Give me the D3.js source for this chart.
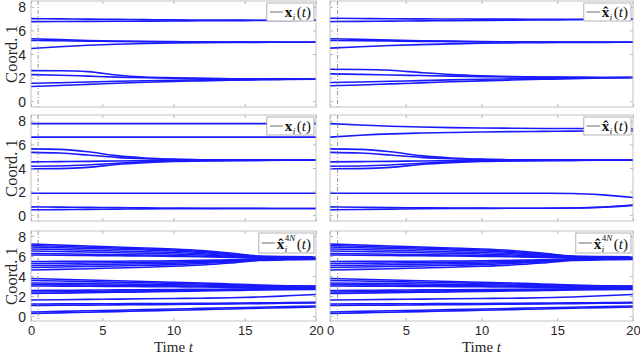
<!DOCTYPE html>
<html>
<head>
<meta charset="utf-8">
<script src="https://cdn.jsdelivr.net/npm/d3@7"></script>
<style>
body { margin: 0; background: #fff; }
svg { display: block; }
</style>
</head>
<body>
<div id="chart"></div>
<script>
// sample times shared by every trajectory
var tt = [0, 2, 4, 6, 8, 10, 12, 14, 16, 18, 20];
var xTicks = [0, 5, 10, 15, 20];
var yTicks = [0, 2, 4, 6, 8];
var tMark = 0.5;

// row 1, left: x_i(t)
var xTrue1 = [
  [7.00, 6.98, 6.96, 6.94, 6.92, 6.90, 6.89, 6.88, 6.87, 6.87, 6.86],
  [6.75, 6.76, 6.77, 6.78, 6.79, 6.80, 6.82, 6.83, 6.84, 6.85, 6.86],
  [5.30, 5.22, 5.15, 5.10, 5.07, 5.05, 5.03, 5.02, 5.01, 5.00, 5.00],
  [5.15, 5.12, 5.09, 5.06, 5.04, 5.03, 5.02, 5.01, 5.00, 5.00, 5.00],
  [4.47, 4.62, 4.74, 4.83, 4.89, 4.93, 4.96, 4.98, 4.99, 5.00, 5.00],
  [2.59, 2.58, 2.50, 2.22, 2.05, 1.98, 1.93, 1.90, 1.88, 1.87, 1.86],
  [2.25, 2.20, 2.12, 2.04, 1.98, 1.94, 1.91, 1.89, 1.88, 1.87, 1.86],
  [1.52, 1.56, 1.62, 1.68, 1.73, 1.77, 1.80, 1.82, 1.84, 1.85, 1.86],
  [1.24, 1.32, 1.42, 1.52, 1.60, 1.67, 1.72, 1.77, 1.81, 1.84, 1.86]
];

// row 1, right: xhat_i(t)
var xHat1 = [
  [7.03, 7.01, 6.99, 6.98, 6.97, 6.96, 6.96, 6.95, 6.95, 6.95, 6.95],
  [6.75, 6.77, 6.79, 6.81, 6.83, 6.85, 6.87, 6.89, 6.91, 6.93, 6.95],
  [5.30, 5.24, 5.18, 5.13, 5.09, 5.06, 5.04, 5.02, 5.01, 5.00, 5.00],
  [5.15, 5.13, 5.10, 5.07, 5.05, 5.03, 5.02, 5.01, 5.00, 5.00, 5.00],
  [4.50, 4.62, 4.72, 4.80, 4.86, 4.91, 4.94, 4.97, 4.98, 4.99, 5.00],
  [2.70, 2.69, 2.62, 2.42, 2.25, 2.15, 2.09, 2.05, 2.03, 2.01, 2.00],
  [2.31, 2.27, 2.22, 2.17, 2.12, 2.08, 2.05, 2.03, 2.02, 2.01, 2.00],
  [1.58, 1.62, 1.68, 1.74, 1.80, 1.85, 1.89, 1.93, 1.96, 1.98, 2.00],
  [1.30, 1.37, 1.46, 1.55, 1.64, 1.72, 1.79, 1.85, 1.91, 1.96, 2.00]
];

// row 2, left: x_i(t)
var xTrue2 = [
  [7.77, 7.77, 7.77, 7.77, 7.77, 7.77, 7.77, 7.77, 7.77, 7.77, 7.77],
  [6.62, 6.62, 6.62, 6.62, 6.62, 6.62, 6.62, 6.62, 6.62, 6.62, 6.62],
  [5.62, 5.58, 5.38, 5.05, 4.85, 4.75, 4.70, 4.68, 4.67, 4.66, 4.66],
  [5.33, 5.27, 5.10, 4.90, 4.78, 4.72, 4.69, 4.67, 4.66, 4.66, 4.66],
  [4.52, 4.54, 4.56, 4.60, 4.62, 4.64, 4.65, 4.66, 4.66, 4.66, 4.66],
  [4.15, 4.17, 4.25, 4.40, 4.52, 4.58, 4.62, 4.64, 4.65, 4.66, 4.66],
  [3.93, 3.95, 4.05, 4.30, 4.45, 4.55, 4.60, 4.63, 4.65, 4.66, 4.66],
  [1.85, 1.85, 1.85, 1.85, 1.85, 1.85, 1.85, 1.85, 1.85, 1.85, 1.85],
  [0.70, 0.68, 0.66, 0.64, 0.62, 0.60, 0.58, 0.57, 0.57, 0.56, 0.56],
  [0.45, 0.47, 0.49, 0.51, 0.53, 0.54, 0.55, 0.56, 0.56, 0.56, 0.56]
];

// row 2, right: xhat_i(t)
var xHat2 = [
  [7.77, 7.65, 7.55, 7.48, 7.43, 7.40, 7.38, 7.36, 7.35, 7.34, 7.33],
  [6.62, 6.78, 6.90, 6.97, 7.02, 7.06, 7.09, 7.11, 7.13, 7.15, 7.16],
  [5.62, 5.58, 5.38, 5.05, 4.85, 4.75, 4.70, 4.68, 4.67, 4.66, 4.66],
  [5.33, 5.27, 5.10, 4.90, 4.78, 4.72, 4.69, 4.67, 4.66, 4.66, 4.66],
  [4.52, 4.54, 4.56, 4.60, 4.62, 4.64, 4.65, 4.66, 4.66, 4.66, 4.66],
  [4.15, 4.17, 4.25, 4.40, 4.52, 4.58, 4.62, 4.64, 4.65, 4.66, 4.66],
  [3.93, 3.95, 4.05, 4.30, 4.45, 4.55, 4.60, 4.63, 4.65, 4.66, 4.66],
  [1.85, 1.85, 1.85, 1.85, 1.85, 1.85, 1.85, 1.85, 1.84, 1.72, 1.49],
  [0.70, 0.67, 0.64, 0.62, 0.60, 0.59, 0.58, 0.58, 0.60, 0.68, 0.86],
  [0.45, 0.48, 0.51, 0.54, 0.56, 0.57, 0.58, 0.58, 0.60, 0.67, 0.83]
];

// row 3, both columns: xhat_i^{4N}(t)
var xHat4N = [
  [7.20, 7.10, 7.00, 6.90, 6.80, 6.70, 6.55, 6.30, 6.00, 5.95, 5.93],
  [7.05, 6.97, 6.88, 6.80, 6.70, 6.60, 6.45, 6.20, 5.97, 5.92, 5.90],
  [6.90, 6.83, 6.76, 6.68, 6.60, 6.50, 6.35, 6.12, 5.93, 5.88, 5.86],
  [6.70, 6.65, 6.58, 6.50, 6.42, 6.35, 6.22, 6.05, 5.90, 5.85, 5.83],
  [6.50, 6.45, 6.40, 6.33, 6.27, 6.20, 6.10, 5.98, 5.86, 5.82, 5.80],
  [6.25, 6.22, 6.18, 6.13, 6.10, 6.05, 5.98, 5.90, 5.82, 5.79, 5.78],
  [6.10, 6.08, 6.05, 6.02, 6.00, 5.96, 5.92, 5.86, 5.80, 5.77, 5.76],
  [5.45, 5.46, 5.47, 5.48, 5.50, 5.52, 5.56, 5.62, 5.70, 5.72, 5.73],
  [5.25, 5.27, 5.30, 5.33, 5.36, 5.40, 5.46, 5.55, 5.67, 5.70, 5.71],
  [5.05, 5.08, 5.12, 5.17, 5.22, 5.27, 5.36, 5.48, 5.63, 5.67, 5.69],
  [4.85, 4.90, 4.95, 5.00, 5.07, 5.14, 5.25, 5.40, 5.60, 5.65, 5.67],
  [4.60, 4.66, 4.73, 4.80, 4.88, 4.97, 5.10, 5.30, 5.55, 5.62, 5.65],
  [3.75, 3.68, 3.60, 3.52, 3.45, 3.38, 3.30, 3.20, 3.10, 3.03, 3.00],
  [3.55, 3.50, 3.44, 3.38, 3.32, 3.26, 3.20, 3.12, 3.05, 3.00, 2.97],
  [3.30, 3.27, 3.24, 3.20, 3.17, 3.13, 3.08, 3.03, 2.98, 2.94, 2.92],
  [3.15, 3.13, 3.10, 3.08, 3.05, 3.02, 2.98, 2.94, 2.90, 2.87, 2.85],
  [3.00, 2.99, 2.98, 2.96, 2.94, 2.92, 2.90, 2.86, 2.83, 2.80, 2.78],
  [2.55, 2.57, 2.59, 2.61, 2.63, 2.65, 2.67, 2.69, 2.71, 2.72, 2.73],
  [2.40, 2.43, 2.46, 2.49, 2.52, 2.55, 2.58, 2.62, 2.66, 2.68, 2.70],
  [2.25, 2.29, 2.33, 2.37, 2.41, 2.45, 2.50, 2.55, 2.60, 2.64, 2.66],
  [1.60, 1.63, 1.66, 1.69, 1.72, 1.75, 1.78, 1.82, 1.90, 2.02, 2.15],
  [1.20, 1.21, 1.22, 1.23, 1.24, 1.25, 1.27, 1.29, 1.31, 1.34, 1.37],
  [1.05, 1.07, 1.09, 1.11, 1.13, 1.15, 1.18, 1.21, 1.24, 1.27, 1.30],
  [0.40, 0.46, 0.52, 0.58, 0.64, 0.70, 0.76, 0.82, 0.88, 0.94, 1.00],
  [0.25, 0.31, 0.38, 0.44, 0.51, 0.57, 0.64, 0.70, 0.77, 0.84, 0.90]
];

var W = 640, H = 355;
var rows = [{top: 1, bottom: 107}, {top: 115, bottom: 221}, {top: 231, bottom: 321}];
var cols = [{left: 31, right: 316}, {left: 330, right: 633}];

var panels = [
  {data: xTrue1, row: 0, col: 0, kind: 'x'},
  {data: xHat1,  row: 0, col: 1, kind: 'xhat'},
  {data: xTrue2, row: 1, col: 0, kind: 'x'},
  {data: xHat2,  row: 1, col: 1, kind: 'xhat'},
  {data: xHat4N, row: 2, col: 0, kind: 'xhat4N'},
  {data: xHat4N, row: 2, col: 1, kind: 'xhat4N'}
];

var svg = d3.select('#chart').append('svg')
    .attr('width', W)
    .attr('height', H);

var sansFont = '"Liberation Sans", Arial, sans-serif';
var serifFont = '"Liberation Serif", "Times New Roman", serif';

panels.forEach(function(p) {
  var r = rows[p.row], c = cols[p.col];
  var x = d3.scaleLinear().domain([0, 20]).range([c.left, c.right]);
  var y = d3.scaleLinear().domain([-0.5, 8.5]).range([r.bottom, r.top]);
  var g = svg.append('g');
  var showX = p.row == 2, showY = p.col == 0;
  var tickLen = 3;

  // trajectories
  var line = d3.line()
      .x(function(d, i) { return x(tt[i]); })
      .y(function(d) { return y(d); })
      .curve(d3.curveMonotoneX);
  g.append('g').selectAll('path')
    .data(p.data)
    .enter().append('path')
      .attr('d', line)
      .attr('fill', 'none')
      .attr('stroke', '#1a1aff')
      .attr('stroke-width', 1.6);

  // dash-dot marker at t = 0.5
  g.append('line')
    .attr('x1', x(tMark)).attr('x2', x(tMark))
    .attr('y1', r.top).attr('y2', r.bottom)
    .attr('stroke', '#7a7a7a')
    .attr('stroke-width', 0.8)
    .attr('stroke-dasharray', '4,2,1,2');

  // ticks inside on all four sides
  var axB = g.append('g').attr('transform', 'translate(0,' + r.bottom + ')')
      .call(d3.axisBottom(x).tickValues(xTicks).tickSizeInner(-tickLen).tickSizeOuter(0)
        .tickFormat(showX ? d3.format('d') : ''));
  var axT = g.append('g').attr('transform', 'translate(0,' + r.top + ')')
      .call(d3.axisTop(x).tickValues(xTicks).tickSizeInner(-tickLen).tickSizeOuter(0).tickFormat(''));
  var axL = g.append('g').attr('transform', 'translate(' + c.left + ',0)')
      .call(d3.axisLeft(y).tickValues(yTicks).tickSizeInner(-tickLen).tickSizeOuter(0)
        .tickFormat(showY ? d3.format('d') : ''));
  var axR = g.append('g').attr('transform', 'translate(' + c.right + ',0)')
      .call(d3.axisRight(y).tickValues(yTicks).tickSizeInner(-tickLen).tickSizeOuter(0).tickFormat(''));

  [axB, axT, axL, axR].forEach(function(a) {
    a.select('.domain').remove();
    a.selectAll('.tick line').attr('stroke', '#9a9a9a').attr('stroke-width', 0.7);
    a.selectAll('.tick text')
      .style('font-family', sansFont)
      .style('font-size', '14px')
      .attr('fill', '#262626');
  });
  axL.selectAll('.tick text').attr('x', -5).attr('dy', '0.36em');
  axB.selectAll('.tick text').attr('y', 5).attr('dy', '0.71em').style('font-size', '13px');

  // frame
  g.append('rect')
    .attr('x', c.left).attr('y', r.top)
    .attr('width', c.right - c.left).attr('height', r.bottom - r.top)
    .attr('fill', 'none')
    .attr('stroke', '#b4b4b4')
    .attr('stroke-width', 0.8);

  // y label
  if (showY) {
    svg.append('text')
      .attr('transform', 'translate(17,' + ((r.top + r.bottom) / 2) + ') rotate(-90)')
      .attr('text-anchor', 'middle')
      .style('font-family', serifFont)
      .style('font-size', '16.5px')
      .attr('fill', '#262626')
      .text('Coord. 1');
  }
  // x label
  if (showX) {
    var xl = svg.append('text')
      .attr('x', (c.left + c.right) / 2).attr('y', 351.6)
      .attr('text-anchor', 'middle')
      .style('font-family', serifFont)
      .style('font-size', '15px')
      .attr('fill', '#262626');
    xl.append('tspan').text('Time ');
    xl.append('tspan').style('font-style', 'italic').text('t');
  }

  drawLegend(g, p.kind, c.right - 2, r.top + 2);
});

function drawLegend(g, kind, right, top) {
  var lg = g.append('g');
  var h = kind == 'xhat4N' ? 20 : 18;
  var base = kind == 'xhat4N' ? 15.5 : 13.5;
  var lab = lg.append('text').attr('x', 0).attr('y', base)
      .style('font-family', serifFont).style('font-size', '15px')
      .attr('fill', '#111');
  lab.append('tspan').style('font-weight', 'bold').text(kind == 'x' ? 'x' : 'x\u0302');
  var sub = lab.append('tspan').attr('dx', 0.5).attr('dy', 3)
      .style('font-style', 'italic').style('font-size', '9px').text('i');
  var back = 3;
  if (kind == 'xhat4N') {
    var sw = sub.node().getComputedTextLength();
    lab.append('tspan').attr('dx', -sw).attr('dy', -10.5).style('font-size', '9px').text('4');
    lab.append('tspan').style('font-size', '9px').style('font-style', 'italic').text('N');
    back = -7.5;
  }
  lab.append('tspan').attr('dx', 1.5).attr('dy', -back).text('(');
  lab.append('tspan').style('font-style', 'italic').text('t');
  lab.append('tspan').text(')');
  var tw = lab.node().getBBox().width;

  var sample = 13;
  var bw = 3 + sample + 2 + tw + 3;
  var bx = right - bw;
  lg.insert('rect', ':first-child')
    .attr('x', bx).attr('y', top)
    .attr('width', bw).attr('height', h)
    .attr('fill', '#fff')
    .attr('stroke', '#a0a0a0')
    .attr('stroke-width', 0.8);
  lg.append('line')
    .attr('x1', bx + 3).attr('x2', bx + 3 + sample)
    .attr('y1', top + h / 2).attr('y2', top + h / 2)
    .attr('stroke', '#444').attr('stroke-width', 0.8);
  lab.attr('transform', 'translate(' + (bx + 3 + sample + 2) + ',' + top + ')');
}
</script>
</body>
</html>
